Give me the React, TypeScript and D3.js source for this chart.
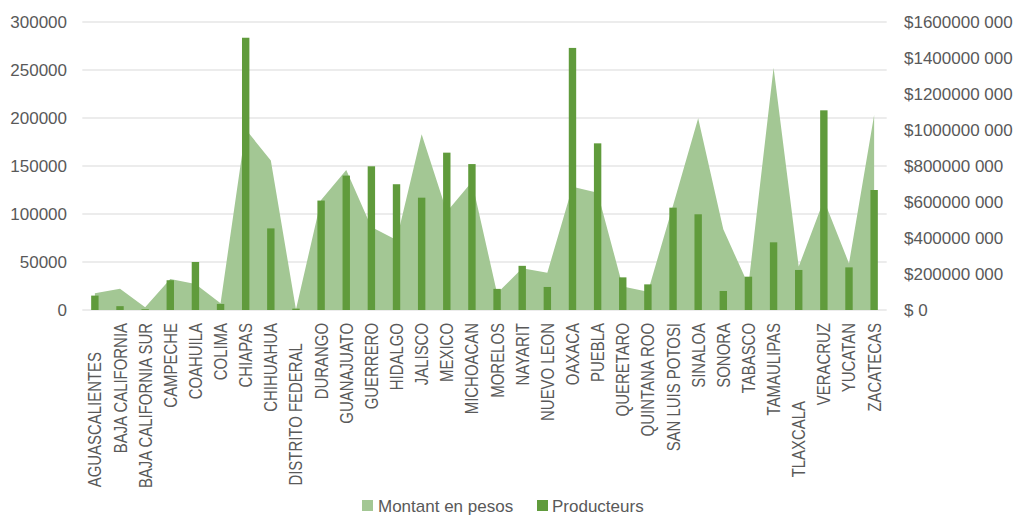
import React from "react";
import * as d3 from "d3";

const categories = [
  "AGUASCALIENTES       ",
  "BAJA CALIFORNIA",
  "BAJA CALIFORNIA SUR",
  "CAMPECHE",
  "COAHUILA",
  "COLIMA",
  "CHIAPAS",
  "CHIHUAHUA",
  "DISTRITO FEDERAL     ",
  "DURANGO",
  "GUANAJUATO",
  "GUERRERO",
  "HIDALGO",
  "JALISCO",
  "MEXICO",
  "MICHOACAN",
  "MORELOS",
  "NAYARIT",
  "NUEVO LEON",
  "OAXACA",
  "PUEBLA",
  "QUERETARO",
  "QUINTANA ROO",
  "SAN LUIS POTOSI",
  "SINALOA",
  "SONORA",
  "TABASCO",
  "TAMAULIPAS",
  "TLAXCALA                   ",
  "VERACRUZ",
  "YUCATAN",
  "ZACATECAS",
];

const producteurs = [
  15000, 4000, 800, 31000, 50000, 6300, 283600, 85000, 1400, 114000, 140000,
  149700, 131000, 117000, 163900, 152000, 22000, 46000, 24000, 273000, 173600,
  34000, 26700, 106600, 99700, 19800, 34700, 70500, 41700, 208000, 44400,
  125000,
];

const montantPesos = [
  93e6, 118e6, 15e6, 172e6, 144e6, 37e6, 1004e6, 830e6, 3e6, 611e6, 778e6,
  461e6, 389e6, 976e6, 546e6, 713e6, 93e6, 232e6, 207e6, 685e6, 652e6, 130e6,
  102e6, 580e6, 1065e6, 448e6, 139e6, 1346e6, 241e6, 611e6, 259e6, 1083e6,
];

const leftTicks = [0, 50000, 100000, 150000, 200000, 250000, 300000];
const rightTicks = [0, 2e8, 4e8, 6e8, 8e8, 10e8, 12e8, 14e8, 16e8];

const seriesNames = ["Montant en pesos", "Producteurs"];

const W = 1013;
const H = 518;
const AREA_COLOR = "#a3c794";
const BAR_COLOR = "#609b3c";
const TEXT_COLOR = "#595959";
const GRID_COLOR = "#d9d9d9";
const FONT = "'Liberation Sans', Arial, sans-serif";

function fmtRight(v: number): string {
  if (v === 0) return "$ 0";
  const thousands = Math.floor(v / 1000);
  const rest = String(v % 1000).padStart(3, "0");
  return `$${thousands} ${rest}`;
}

export default function App() {
  const left = 82.3;
  const right = 886.7;
  const top = 22;
  const bottom = 310;

  const x = d3.scaleBand<string>().domain(categories).range([left, right]);
  const bw = x.bandwidth();
  const cx = (c: string) => (x(c) as number) + bw / 2;
  const yL = d3.scaleLinear().domain([0, 300000]).range([bottom, top]);
  const yR = d3.scaleLinear().domain([0, 1.6e9]).range([bottom, top]);

  const area = d3
    .area<number>()
    .x((_, i) => cx(categories[i]))
    .y0(yR(0))
    .y1((d) => yR(d));

  const barW = 7.4;

  return (
    <svg
      width={W}
      height={H}
      style={{ position: "absolute", left: 0, top: 0, background: "#fff" }}
      fontFamily={FONT}
    >
      {leftTicks.map((t) => (
        <line
          key={"g" + t}
          x1={left}
          x2={right}
          y1={yL(t)}
          y2={yL(t)}
          stroke={GRID_COLOR}
          strokeWidth={1}
        />
      ))}
      <path d={area(montantPesos) || ""} fill={AREA_COLOR} />
      {producteurs.map((v, i) => (
        <rect
          key={"b" + i}
          x={cx(categories[i]) - barW / 2}
          y={yL(v)}
          width={barW}
          height={yL(0) - yL(v)}
          fill={BAR_COLOR}
        />
      ))}
      {leftTicks.map((t) => (
        <text
          key={"l" + t}
          x={67}
          y={yL(t)}
          dy="0.35em"
          textAnchor="end"
          fontSize={17}
          fill={TEXT_COLOR}
        >
          {t}
        </text>
      ))}
      {rightTicks.map((t) => (
        <text
          key={"r" + t}
          x={904}
          y={yR(t)}
          dy="0.35em"
          textAnchor="start"
          fontSize={17}
          fill={TEXT_COLOR}
        >
          {fmtRight(t)}
        </text>
      ))}
      {categories.map((c) => (
        <text
          key={"c" + c}
          transform={`translate(${cx(c)},${323}) rotate(-90) scale(0.83,1)`}
          dy="0.36em"
          textAnchor="end"
          fontSize={18}
          fill={TEXT_COLOR}
          style={{ whiteSpace: "pre" }}
        >
          {c}
        </text>
      ))}
      <rect x={362} y={500} width={11} height={11} fill={AREA_COLOR} />
      <text x={378} y={512} fontSize={17} fill={TEXT_COLOR}>
        {seriesNames[0]}
      </text>
      <rect x={537} y={500} width={11} height={11} fill={BAR_COLOR} />
      <text x={552} y={512} fontSize={17} fill={TEXT_COLOR}>
        {seriesNames[1]}
      </text>
    </svg>
  );
}
